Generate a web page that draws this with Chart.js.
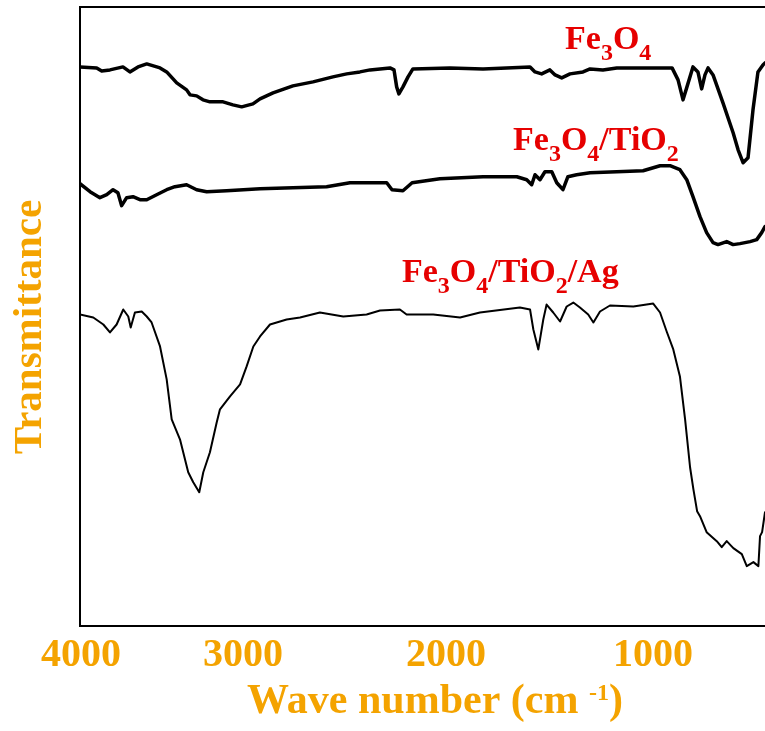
<!DOCTYPE html>
<html>
<head>
<meta charset="utf-8">
<script src="https://cdn.jsdelivr.net/npm/chart.js@4.4.1/dist/chart.umd.min.js"></script>
<style>
  html, body { margin: 0; padding: 0; background: #ffffff; }
  #wrap { width: 765px; height: 731px; position: relative; }
</style>
</head>
<body>
<div id="wrap"><canvas id="c" width="765" height="731"></canvas></div>
<script>
// ---------------- DATA ----------------
const xTickValues = [4000, 3000, 2000, 1000];

// Fe3O4 (top trace): wavenumber (cm-1) and transmittance (a.u.)
const fe3o4_wn = [4006, 3903, 3872, 3821, 3741, 3698, 3648, 3594, 3512, 3471, 3409, 3348, 3327, 3286, 3247, 3204, 3123, 3062, 3008,
  2951, 2916, 2852, 2754, 2655, 2557, 2489, 2424, 2374, 2276, 2256, 2243, 2232, 2212, 2187, 2163,
  1981, 1821, 1594, 1570, 1538, 1498, 1473, 1441, 1401, 1338, 1304, 1242, 1175, 1014,
  908, 879, 855, 836, 807, 783, 765, 749, 734, 710, 662, 613, 589, 565, 541, 517, 493, 469, 459];
const fe3o4_T = [560, 559, 556, 557, 560, 555, 560, 563, 559, 555, 544, 537, 532, 531, 527, 525, 525, 522, 520,
  523, 528, 534, 541, 545, 550, 553, 555, 557, 559, 557, 540, 533, 540, 550, 558,
  559, 558, 560, 555, 553, 557, 552, 549, 553, 555, 558, 557, 559, 559,
  559, 547, 527, 540, 560, 555, 538, 552, 559, 552, 524, 494, 477, 464, 469, 517, 555, 562, 564];

// Fe3O4/TiO2 (middle trace)
const fe3o4TiO2_wn = [4006, 3944, 3883, 3841, 3802, 3772, 3749, 3718, 3679, 3636, 3594, 3533, 3471, 3420, 3348, 3286, 3224, 3101,
  2916, 2754, 2588, 2473, 2292, 2266, 2212, 2167, 2030,
  1821, 1658, 1610, 1586, 1570, 1546, 1522, 1489, 1465, 1435, 1411, 1369, 1304, 1175, 1048,
  966, 918, 870, 837, 807, 773, 741, 710, 686, 644, 613, 580, 531, 499, 475, 459];
const fe3o4TiO2_T = [443, 435, 429, 432, 437, 434, 421, 429, 430, 427, 427, 432, 437, 440, 442, 437, 435, 436,
  438, 439, 440, 444, 444, 437, 436, 444, 448,
  450, 450, 447, 442, 452, 447, 455, 455, 444, 437, 450, 452, 454, 455, 456,
  461, 461, 457, 447, 430, 410, 394, 384, 382, 385, 382, 383, 385, 387, 394, 400];

// Fe3O4/TiO2/Ag (bottom trace)
const fe3o4TiO2Ag_wn = [4006, 3924, 3862, 3821, 3780, 3739, 3708, 3693, 3667, 3625, 3594, 3564, 3512, 3471, 3440, 3389, 3338, 3307, 3270,
  3245, 3204, 3162, 3142, 3080, 3018, 2982, 2949, 2916, 2867, 2785, 2719, 2621, 2506, 2391, 2325, 2227, 2194, 2063,
  1932, 1836, 1643, 1594, 1578, 1554, 1530, 1514, 1482, 1449, 1417, 1385, 1353, 1313, 1288, 1256, 1208, 1095, 999,
  966, 934, 902, 870, 845, 821, 805, 787, 773, 741, 692, 668, 644, 612, 571, 547, 515, 491, 483, 473, 459];
const fe3o4TiO2Ag_T = [312, 309, 302, 294, 302, 317, 310, 299, 314, 315, 310, 304, 280, 247, 207, 187, 154, 144, 134,
  154, 174, 204, 217, 230, 242, 260, 280, 290, 302, 307, 309, 314, 310, 312, 316, 317, 312, 312,
  309, 314, 319, 317, 297, 277, 307, 322, 314, 305, 320, 324, 319, 312, 304, 315, 321, 320, 323,
  314, 295, 277, 250, 207, 159, 137, 115, 110, 94, 85, 79, 85, 78, 72, 60, 64, 60, 90, 94, 114];

// ---------------- STYLE ----------------
const ORANGE = '#F4A300';
const RED = '#E60000';
const SERIF = '"Liberation Serif", "Times New Roman", serif';

// axis layout knots: tick values and their offsets (px) from the plot's left edge
const X_KNOT_VALUES = [4000, 3000, 2000, 1000];
const X_KNOT_OFFSETS = [1, 163, 366, 573];

class WarpScale extends Chart.LinearScale {
  _warp(v) {
    const kv = X_KNOT_VALUES, kp = X_KNOT_OFFSETS;
    let i = kv.length - 2;
    if (v >= kv[0]) i = 0;
    else {
      for (let j = 0; j < kv.length - 1; j++) {
        if (v <= kv[j] && v >= kv[j + 1]) { i = j; break; }
      }
    }
    const t = (v - kv[i]) / (kv[i + 1] - kv[i]);
    return kp[i] + t * (kp[i + 1] - kp[i]);
  }
  getPixelForValue(value) {
    const a = this._warp(this.max), b = this._warp(this.min);
    return this.left + (this._warp(value) - a) / (b - a) * this.width;
  }
  getValueForPixel(pixel) {
    const a = this._warp(this.max), b = this._warp(this.min);
    const w = a + (pixel - this.left) / this.width * (b - a);
    const kv = X_KNOT_VALUES, kp = X_KNOT_OFFSETS;
    let i = kv.length - 2;
    if (w <= kp[0]) i = 0;
    else for (let j = 0; j < kp.length - 1; j++) { if (w >= kp[j] && w <= kp[j + 1]) { i = j; break; } }
    const t = (w - kp[i]) / (kp[i + 1] - kp[i]);
    return kv[i] + t * (kv[i + 1] - kv[i]);
  }
}
WarpScale.id = 'warp';
WarpScale.defaults = Chart.LinearScale.defaults;
Chart.register(WarpScale);

function pts(xs, ys) { return xs.map((x, i) => ({ x: x, y: ys[i] })); }

const labels = [
  { wn: 1425, t: 578, parts: [['Fe', 0], ['3', 1], ['O', 0], ['4', 1]] },
  { wn: 1676, t: 477, parts: [['Fe', 0], ['3', 1], ['O', 0], ['4', 1], ['/TiO', 0], ['2', 1]] },
  { wn: 2217, t: 345, parts: [['Fe', 0], ['3', 1], ['O', 0], ['4', 1], ['/TiO', 0], ['2', 1], ['/Ag', 0]] }
];

const decorPlugin = {
  id: 'decor',
  afterDatasetsDraw(chart) {
    const ctx = chart.ctx, a = chart.chartArea;
    ctx.save();
    // frame (left, top, bottom; right side is cut by the picture edge)
    ctx.strokeStyle = '#000';
    ctx.lineWidth = 2;
    ctx.beginPath();
    ctx.moveTo(chart.width + 2, a.top);
    ctx.lineTo(a.left, a.top);
    ctx.lineTo(a.left, a.bottom);
    ctx.lineTo(chart.width + 2, a.bottom);
    ctx.stroke();

    // series labels with subscripts
    const xs = chart.scales.x, ys = chart.scales.y;
    ctx.fillStyle = RED;
    ctx.textBaseline = 'alphabetic';
    ctx.textAlign = 'left';
    labels.forEach(l => {
      let x = xs.getPixelForValue(l.wn);
      const y = ys.getPixelForValue(l.t);
      l.parts.forEach(([s, sub]) => {
        ctx.font = sub ? 'bold 24px ' + SERIF : 'bold 34px ' + SERIF;
        ctx.fillText(s, x, sub ? y + 11 : y);
        x += ctx.measureText(s).width;
      });
    });

    // x-axis title with superscript
    ctx.fillStyle = ORANGE;
    const segs = [['Wave number (cm ', 0], ['-1', 1], [')', 0]];
    let total = 0;
    segs.forEach(([s, sup]) => { ctx.font = sup ? 'bold 24px ' + SERIF : 'bold 42px ' + SERIF; total += ctx.measureText(s).width; });
    let x = 435 - total / 2;
    segs.forEach(([s, sup]) => {
      ctx.font = sup ? 'bold 24px ' + SERIF : 'bold 42px ' + SERIF;
      ctx.fillText(s, x, sup ? 700 : 713);
      x += ctx.measureText(s).width;
    });

    // y-axis title
    ctx.translate(41, 327);
    ctx.rotate(-Math.PI / 2);
    ctx.textAlign = 'center';
    ctx.font = 'bold 41px ' + SERIF;
    ctx.fillText('Transmittance', 0, 0);
    ctx.restore();
  }
};

const lineDs = (label, xs, ys, w) => ({
  label: label,
  data: pts(xs, ys),
  borderColor: '#000',
  borderWidth: w,
  pointRadius: 0,
  tension: 0,
  fill: false,
  borderJoinStyle: 'round',
  borderCapStyle: 'round'
});

new Chart(document.getElementById('c'), {
  type: 'line',
  data: {
    datasets: [
      lineDs('Fe3O4', fe3o4_wn, fe3o4_T, 3.5),
      lineDs('Fe3O4/TiO2', fe3o4TiO2_wn, fe3o4TiO2_T, 3.5),
      lineDs('Fe3O4/TiO2/Ag', fe3o4TiO2Ag_wn, fe3o4TiO2Ag_T, 2)
    ]
  },
  options: {
    responsive: false,
    animation: false,
    layout: { padding: { left: 80, top: 7, right: 0, bottom: 45 } },
    plugins: { legend: { display: false }, tooltip: { enabled: false } },
    scales: {
      x: {
        type: 'warp',
        min: 459,
        max: 4006,
        grid: { display: false, drawTicks: false },
        border: { display: false },
        afterBuildTicks: s => { s.ticks = xTickValues.map(v => ({ value: v })); },
        ticks: {
          autoSkip: false,
          maxRotation: 0,
          padding: 6,
          color: ORANGE,
          font: { family: SERIF, size: 40, weight: 'bold' },
          callback: v => String(v)
        }
      },
      y: {
        type: 'linear',
        min: 0,
        max: 620,
        display: false
      }
    }
  },
  plugins: [decorPlugin]
});
</script>
</body>
</html>
